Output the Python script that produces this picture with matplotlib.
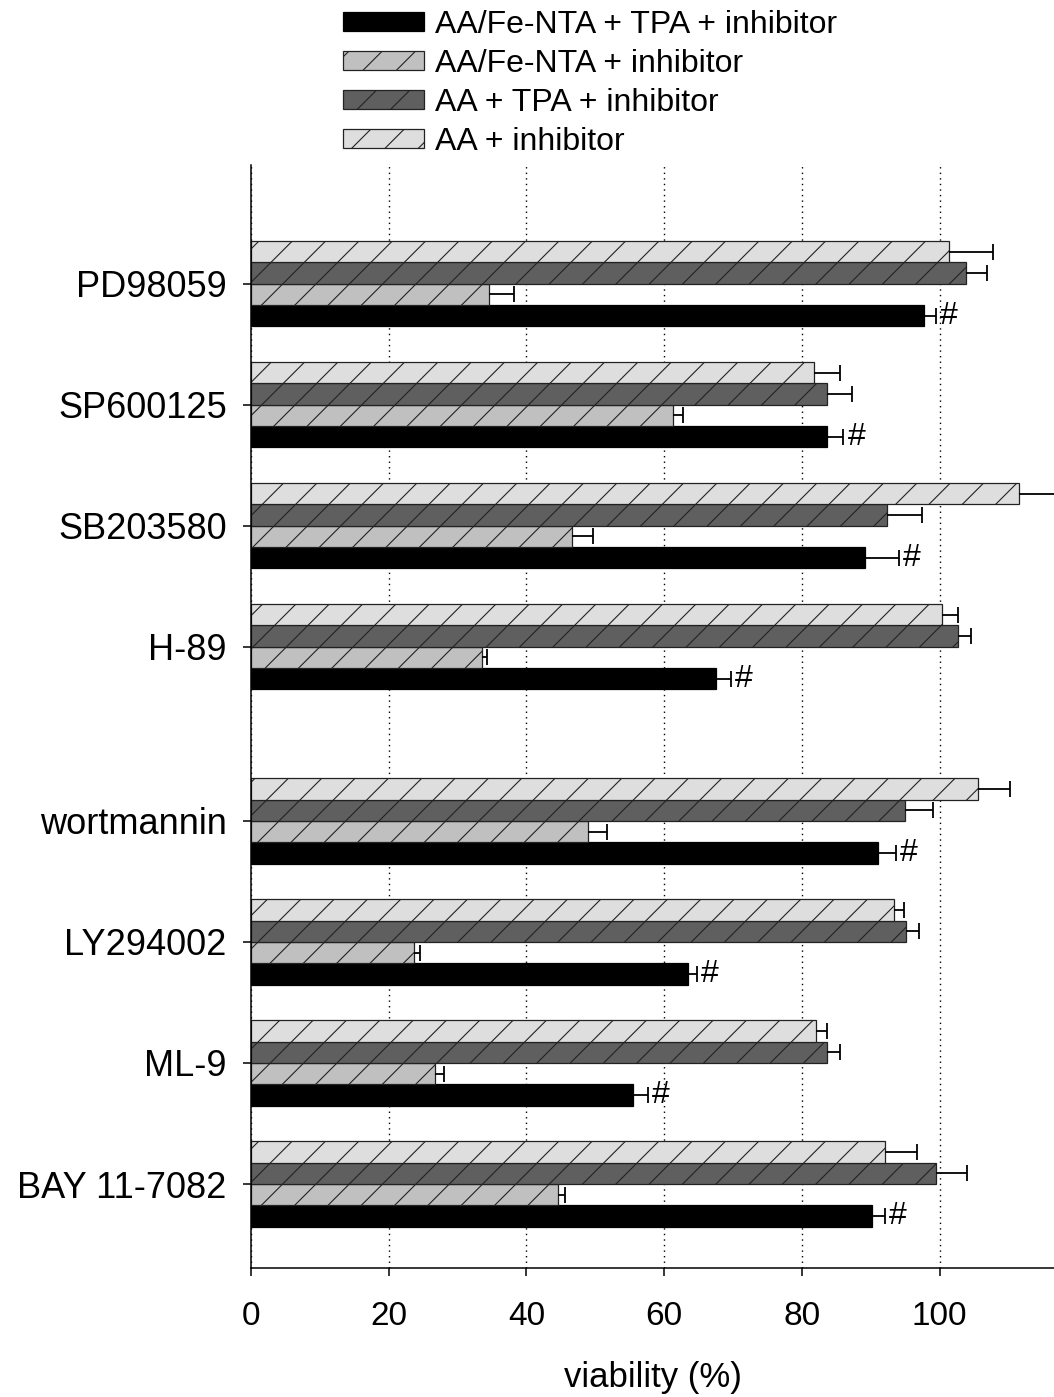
import numpy as np
import matplotlib
matplotlib.use("Agg")
import matplotlib.pyplot as plt

# inhibitors, top to bottom
inhibitors = ["PD98059", "SP600125", "SB203580", "H-89",
              "wortmannin", "LY294002", "ML-9", "BAY 11-7082"]

series = ["AA/Fe-NTA + TPA + inhibitor", "AA/Fe-NTA + inhibitor",
          "AA + TPA + inhibitor", "AA + inhibitor"]

fe_tpa = [97.7, 83.6, 89.2, 67.5, 91.0, 63.5, 55.4, 90.1]
fe_tpa_err = [1.8, 2.4, 4.9, 2.2, 2.6, 1.2, 2.2, 1.9]

fe = [34.5, 61.3, 46.6, 33.6, 48.9, 23.6, 26.7, 44.6]
fe_err = [3.7, 1.4, 3.1, 0.6, 2.8, 1.0, 1.3, 1.0]

aa_tpa = [103.8, 83.6, 92.4, 102.7, 95.0, 95.1, 83.7, 99.5]
aa_tpa_err = [3.1, 3.7, 5.1, 1.9, 4.0, 1.9, 1.8, 4.5]

aa = [101.3, 81.8, 111.5, 100.4, 105.5, 93.3, 82.1, 92.1]
aa_err = [6.4, 3.7, 6.0, 2.3, 4.7, 1.5, 1.6, 4.6]

# '#' marks on the AA/Fe-NTA + TPA bars
significant = [True] * 8

plt.rcParams["font.family"] = ["Liberation Sans", "DejaVu Sans"]
plt.rcParams["hatch.linewidth"] = 0.8
plt.rcParams["hatch.color"] = "black"

fig = plt.figure(figsize=(10.54, 13.97), dpi=100)
ax = fig.add_axes([251 / 1054, 1 - 1268 / 1397, 1 - 251 / 1054, (1268 - 165) / 1397])

# group centres: two blocks of four with a wider gap between them
n = len(inhibitors)
pos = np.arange(n)[::-1].astype(float)
pos[:4] += 0.44

h = 0.176
styles = [
    dict(color="black", hatch=None),
    dict(color="#c0c0c0", hatch="/"),
    dict(color="#5f5f5f", hatch="/"),
    dict(color="#dedede", hatch="/"),
]
vals = [fe_tpa, fe, aa_tpa, aa]
errs = [fe_tpa_err, fe_err, aa_tpa_err, aa_err]

for i, (v, e, st, lab) in enumerate(zip(vals, errs, styles, series)):
    y = pos + (i - 1.5) * h
    ax.barh(y, v, height=h, color=st["color"], hatch=st["hatch"],
            edgecolor="#222222" if st["hatch"] else "black", linewidth=0.9,
            label=lab, zorder=2)
    v = np.array(v)
    e = np.array(e)
    _, caps, _ = ax.errorbar(v, y, xerr=[np.zeros_like(e), e], fmt="none",
                             ecolor="black", elinewidth=1.3, capsize=5.5,
                             capthick=1.3, zorder=3)
    for c in caps:
        if np.allclose(c.get_xdata(), v):
            c.set_visible(False)
    if i == 0:
        for yy, vv, ee, s in zip(y, v, e, significant):
            if s:
                ax.text(vv + ee + 0.6, yy, "#", fontsize=23, va="center",
                        ha="left", zorder=4)

ax.set_xlim(0, 116.6)
ax.set_ylim(-0.694, 8.42)
ax.set_yticks(pos, inhibitors)
ax.set_xticks([0, 20, 40, 60, 80, 100])
ax.tick_params(axis="both", direction="out", length=6, width=1.1)
ax.tick_params(axis="x", labelsize=24, pad=18)
ax.tick_params(axis="y", labelsize=26, pad=11.5)
ax.set_xlabel("viability (%)", fontsize=25, labelpad=21)

for s in ["top", "right"]:
    ax.spines[s].set_visible(False)
for s in ["left", "bottom"]:
    ax.spines[s].set_linewidth(1.1)

ax.xaxis.grid(True, linestyle=(0, (1, 3)), color="black", linewidth=1.0, zorder=0)
ax.set_axisbelow(True)

fig.legend(loc="upper left", bbox_to_anchor=(343 / 1054, 1 - 10 / 1397),
           frameon=False, fontsize=23, handlelength=2.55, handleheight=0.55,
           handletextpad=0.33, labelspacing=0.28, borderpad=0, borderaxespad=0)

fig.savefig("out.png", dpi=100, facecolor="white")
